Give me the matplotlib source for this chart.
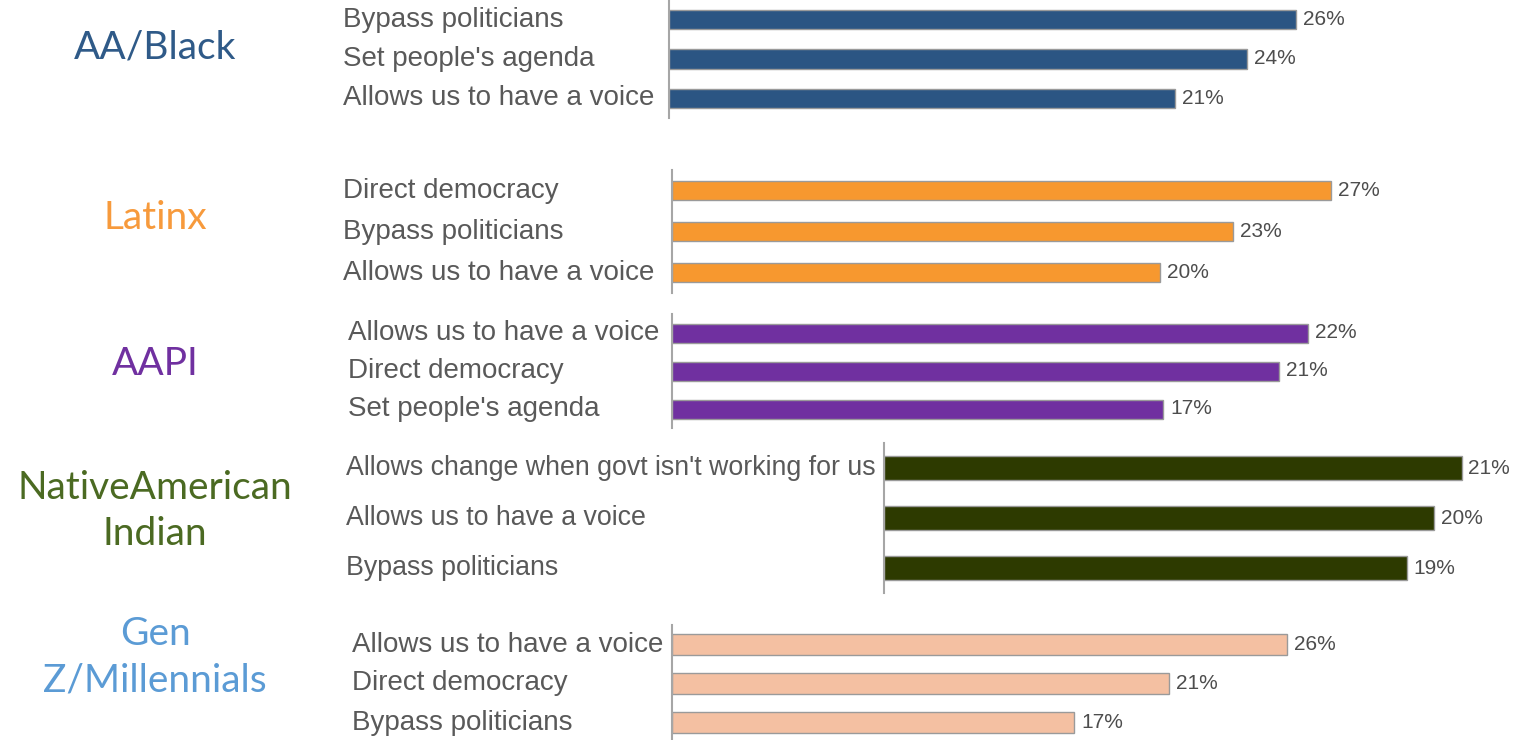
import matplotlib.pyplot as plt
from matplotlib import transforms

# data, one block per group, top bar first
groups = ["AA/Black", "Latinx", "AAPI", "NativeAmerican\nIndian", "Gen\nZ/Millennials"]
aa_labels = ["Bypass politicians", "Set people's agenda", "Allows us to have a voice"]
aa_values = [26, 24, 21]
lat_labels = ["Direct democracy", "Bypass politicians", "Allows us to have a voice"]
lat_values = [27, 23, 20]
aapi_labels = ["Allows us to have a voice", "Direct democracy", "Set people's agenda"]
aapi_values = [22, 21, 17]
nat_labels = ["Allows change when govt isn't working for us", "Allows us to have a voice", "Bypass politicians"]
nat_values = [21, 20, 19]
gen_labels = ["Allows us to have a voice", "Direct democracy", "Bypass politicians"]
gen_values = [26, 21, 17]

all_labels = [aa_labels, lat_labels, aapi_labels, nat_labels, gen_labels]
all_values = [aa_values, lat_values, aapi_values, nat_values, gen_values]

bar_colors = ["#2B5583", "#F7982F", "#7030A0", "#2D3A00", "#F4C0A2"]
title_colors = ["#2F5A88", "#F79A3C", "#7030A0", "#4B6A22", "#5B9BD5"]

W, H = 1527, 740
# layout in pixels: axis x, top, bottom, px per %, label x, title y, bar height, label size
layout = [
    (669, 0, 118, 24.1, 343, 47, 0.49, 20.0),
    (672, 170, 293, 24.4, 343, 218, 0.46, 20.0),
    (672, 314, 428, 28.9, 348, 364, 0.5, 20.0),
    (884, 443, 593, 27.5, 346, 511, 0.48, 19.3),
    (672, 625, 742, 23.65, 352, 657, 0.52, 20.0),
]

fig = plt.figure(figsize=(W / 100, H / 100), dpi=100)

for i in range(5):
    x0, top, bot, scale, lx, ty, bh, fs = layout[i]
    labels = all_labels[i]
    vals = all_values[i]
    ax = fig.add_axes([x0 / W, 1 - bot / H, (W - x0) / W, (bot - top) / H])
    ax.barh(range(3), vals, height=bh, color=bar_colors[i], edgecolor="#9a9a9a", linewidth=1)
    ax.set_xlim(0, (W - x0) / scale)
    ax.set_ylim(2.5, -0.5)
    for s in ["top", "right", "bottom"]:
        ax.spines[s].set_visible(False)
    ax.spines["left"].set_color("#a6a6a6")
    ax.spines["left"].set_linewidth(1.5)
    ax.set_xticks([])
    ax.set_yticks([])
    ax.patch.set_alpha(0)

    trans = transforms.blended_transform_factory(fig.transFigure, ax.transData)
    for j in range(3):
        ax.text(lx / W, j, labels[j], transform=trans, ha="left", va="center",
                fontsize=fs, color="#595959", family="Liberation Sans")
        ax.annotate(f"{vals[j]}%", (vals[j], j), xytext=(5, 0), textcoords="offset points",
                    ha="left", va="center", fontsize=15, color="#4d4d4d",
                    family="Liberation Sans")

    fig.text(155 / W, 1 - ty / H, groups[i], ha="center", va="center", fontsize=28,
             color=title_colors[i], family="Lato", linespacing=1.35)

fig.savefig("out.png", dpi=100)
